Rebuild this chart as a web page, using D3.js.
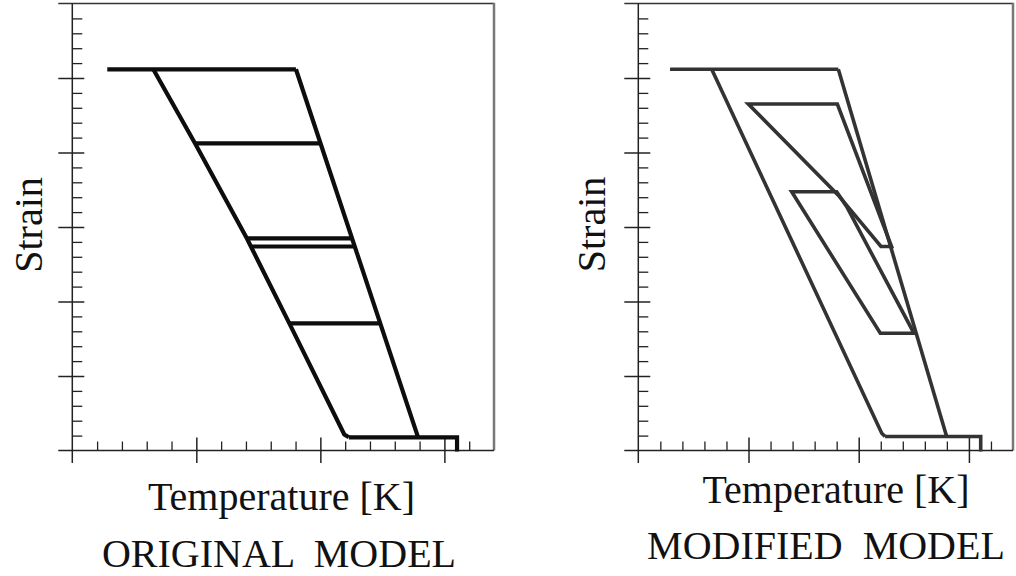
<!DOCTYPE html>
<html>
<head>
<meta charset="utf-8">
<script src="https://cdn.jsdelivr.net/npm/d3@7"></script>
<style>
  html, body { margin: 0; padding: 0; background: #fff; }
  svg { display: block; }
  text { font-family: "Liberation Serif", "Times New Roman", serif; fill: #111; }
</style>
</head>
<body>
<svg id="fig" width="1016" height="576"></svg>
<script>
// ---- shared axis ticks (temperature and strain, arbitrary units) ----
const tempMajorTicks = [0, 1, 2, 3];
const tempMinorTicks = [0.2, 0.4, 0.6, 0.8, 1.2, 1.4, 1.6, 1.8, 2.2, 2.4, 2.6, 2.8, 3.2];
const strainMajorTicks = [0, 1, 2, 3, 4, 5];
const strainMinorTicks = [0.2, 0.4, 0.6, 0.8, 1.2, 1.4, 1.6, 1.8, 2.2, 2.4, 2.6, 2.8,
                          3.2, 3.4, 3.6, 3.8, 4.2, 4.4, 4.6, 4.8, 5.2, 5.4, 5.6, 5.8];
const tempDomain = [0, 3.4];
const strainDomain = [0, 6];

// ---- original model: [temperature, strain] ----
const origTopPlateau = [[0.282, 5.117], [1.803, 5.117]];
const origCoolingBranch = [[0.653, 5.117], [0.989, 4.123], [1.408, 2.846], [1.440, 2.738],
                           [1.750, 1.707], [2.193, 0.215], [2.230, 0.177]];
const origHeatingBranch = [[1.803, 5.117], [2.788, 0.177]];
const origBottomPlateau = [[2.230, 0.177], [3.102, 0.177], [3.102, -0.015]];
// partial-cycle rungs: strain level, start and end temperature
const origRungStrain = [4.123, 2.846, 2.738, 1.707];
const origRungStart = [0.989, 1.408, 1.440, 1.750];
const origRungEnd = [2.001, 2.256, 2.277, 2.483];

// ---- modified model: [temperature, strain] ----
const modTopPlateau = [[0.288, 5.117], [1.815, 5.117]];
const modCoolingBranch = [[0.666, 5.117], [2.209, 0.231], [2.239, 0.188]];
const modHeatingBranch = [[1.815, 5.117], [2.798, 0.188]];
const modBottomPlateau = [[2.239, 0.188], [3.107, 0.188], [3.107, -0.015]];
const modInnerLoopA = [[0.998, 4.651], [1.806, 4.651], [2.298, 2.738], [2.202, 2.738], [1.812, 3.430]];
const modInnerLoopB = [[1.392, 3.474], [1.800, 3.474], [1.891, 3.272], [2.502, 1.573], [2.196, 1.573]];

const svg = d3.select("#fig");

function drawPanel(opts) {
  const g = svg.append("g");
  const x = d3.scaleLinear().domain(tempDomain).range([opts.left, opts.right]);
  const y = d3.scaleLinear().domain(strainDomain).range([opts.bottom, opts.top]);

  // frame: top and right edges
  g.append("line").attr("x1", opts.left - 14).attr("x2", opts.right)
    .attr("y1", opts.top).attr("y2", opts.top)
    .attr("stroke", "#333").attr("stroke-width", 1.5);
  g.append("line").attr("x1", opts.right).attr("x2", opts.right)
    .attr("y1", opts.top - 0.75).attr("y2", opts.bottom)
    .attr("stroke", "#777").attr("stroke-width", 2.5);

  // axis lines, extending a little past the lower-left corner
  g.append("line").attr("x1", opts.left - 14).attr("x2", opts.right)
    .attr("y1", opts.bottom).attr("y2", opts.bottom)
    .attr("stroke", "#222").attr("stroke-width", 1.5);
  g.append("line").attr("x1", opts.left).attr("x2", opts.left)
    .attr("y1", opts.top).attr("y2", opts.bottom + 12.5)
    .attr("stroke", "#222").attr("stroke-width", 1.5);

  const styleAxis = (sel, w) => {
    sel.select(".domain").remove();
    sel.selectAll(".tick line").attr("stroke", "#222").attr("stroke-width", w);
    sel.selectAll(".tick text").remove();
  };

  // temperature ticks
  g.append("g").attr("transform", `translate(0,${opts.bottom})`)
    .call(d3.axisTop(x).tickValues(tempMinorTicks).tickSize(9).tickFormat(""))
    .call(s => styleAxis(s, 1.3));
  g.append("g").attr("transform", `translate(0,${opts.bottom})`)
    .call(d3.axisTop(x).tickValues(tempMajorTicks.slice(1)).tickSize(13).tickFormat(""))
    .call(s => styleAxis(s, 1.5));
  g.append("g").attr("transform", `translate(0,${opts.bottom})`)
    .call(d3.axisBottom(x).tickValues(tempMajorTicks.slice(1)).tickSize(12.5).tickFormat(""))
    .call(s => styleAxis(s, 1.5));

  // strain ticks
  g.append("g").attr("transform", `translate(${opts.left},0)`)
    .call(d3.axisRight(y).tickValues(strainMinorTicks).tickSize(10).tickFormat(""))
    .call(s => styleAxis(s, 1.3));
  g.append("g").attr("transform", `translate(${opts.left},0)`)
    .call(d3.axisRight(y).tickValues(strainMajorTicks.slice(1)).tickSize(12).tickFormat(""))
    .call(s => styleAxis(s, 1.5));
  g.append("g").attr("transform", `translate(${opts.left},0)`)
    .call(d3.axisLeft(y).tickValues(strainMajorTicks.slice(1)).tickSize(14).tickFormat(""))
    .call(s => styleAxis(s, 1.5));

  // curves
  const line = d3.line().x(d => x(d[0])).y(d => y(d[1]));
  const closed = d3.line().x(d => x(d[0])).y(d => y(d[1])).curve(d3.curveLinearClosed);
  const curveGroup = g.append("g")
    .attr("fill", "none").attr("stroke", opts.color)
    .attr("stroke-width", opts.width).attr("stroke-linejoin", "miter")
    .attr("stroke-miterlimit", 6);
  opts.open.forEach(pts => curveGroup.append("path").attr("d", line(pts)));
  (opts.closed || []).forEach(pts => curveGroup.append("path").attr("d", closed(pts)));
  if (opts.rungs) {
    curveGroup.selectAll("line.rung").data(opts.rungs.strain).join("line")
      .attr("class", "rung")
      .attr("x1", (d, i) => x(opts.rungs.start[i]))
      .attr("x2", (d, i) => x(opts.rungs.end[i]))
      .attr("y1", d => y(d)).attr("y2", d => y(d));
  }

  // labels
  g.append("text")
    .attr("transform", `translate(${opts.strainX},${opts.strainY}) rotate(-90)`)
    .attr("text-anchor", "middle").attr("font-size", 40)
    .text("Strain");
  g.append("text").attr("x", opts.tempLabelX).attr("y", opts.tempLabelY)
    .attr("text-anchor", "middle").attr("font-size", 40)
    .text("Temperature [K]");
  g.append("text").attr("x", opts.titleX).attr("y", opts.titleY)
    .attr("text-anchor", "middle").attr("font-size", 40)
    .style("white-space", "pre")
    .text(opts.title);
}

drawPanel({
  left: 72.3, right: 494, top: 3.5, bottom: 450.5,
  color: "#0d0d0d", width: 4.2,
  open: [origTopPlateau, origCoolingBranch, origHeatingBranch, origBottomPlateau],
  rungs: { strain: origRungStrain, start: origRungStart, end: origRungEnd },
  strainX: 41.5, strainY: 225,
  tempLabelX: 281.5, tempLabelY: 510,
  titleX: 279, titleY: 566.5,
  title: "ORIGINAL  MODEL"
});

drawPanel({
  left: 638.3, right: 1013, top: 3.5, bottom: 450.5,
  color: "#333333", width: 3.6,
  open: [modTopPlateau, modCoolingBranch, modHeatingBranch, modBottomPlateau],
  closed: [modInnerLoopA, modInnerLoopB],
  strainX: 605, strainY: 224.5,
  tempLabelX: 836, tempLabelY: 503,
  titleX: 826, titleY: 558.5,
  title: "MODIFIED  MODEL"
});
</script>
</body>
</html>
